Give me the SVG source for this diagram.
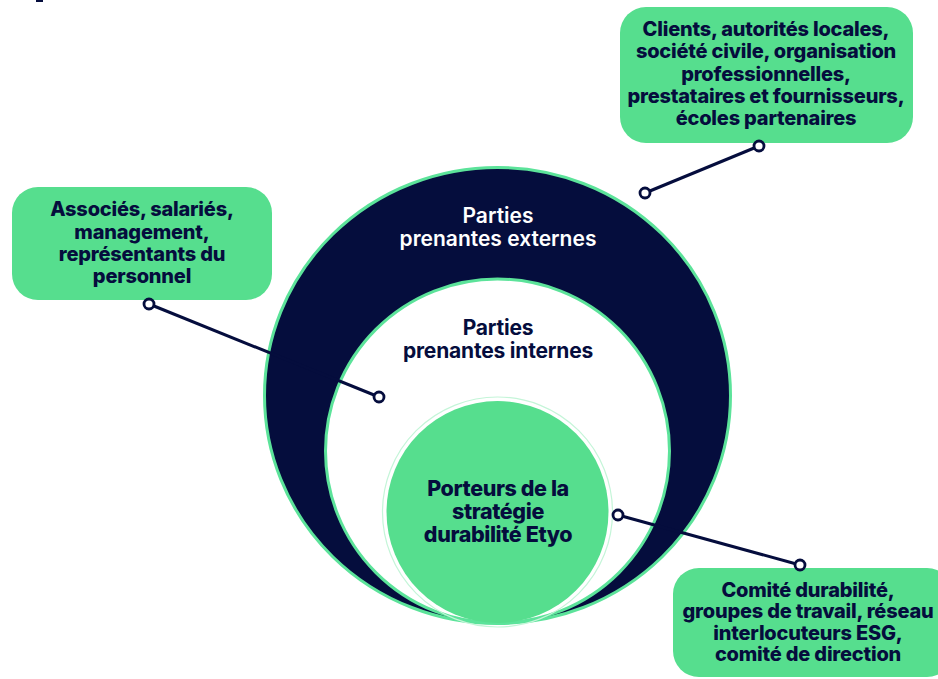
<svg xmlns="http://www.w3.org/2000/svg" width="938" height="679" viewBox="0 0 938 679">
<style>
.box{fill:#56DE8E;}
.t{font-family:Inter,"Liberation Sans",sans-serif;font-weight:800;fill:#050D3D;text-anchor:middle;letter-spacing:-0.2px;}
.bt{font-size:20px;}
.wt{fill:#ffffff;font-size:21px;font-weight:600;letter-spacing:0px;}
.it{font-size:21px;font-weight:700;letter-spacing:-0.2px;}
.ct{font-size:21.5px;letter-spacing:-0.4px;}
.ln{stroke:#050D3D;stroke-width:3;fill:none;}
.dot{fill:#ffffff;stroke:#050D3D;stroke-width:2.8;}
</style>
<rect width="938" height="679" fill="#ffffff"/>
<rect x="36" y="0" width="7" height="2" fill="#050D3D"/>
<g id="outer">
<ellipse cx="497.5" cy="395.5" rx="233" ry="228" fill="#050D3D" stroke="#5CE39A" stroke-width="3"/>
<text class="t wt" x="498" y="223">Parties</text>
<text class="t wt" x="498" y="246">prenantes externes</text>
</g>
<g id="inner">
<circle cx="497.5" cy="451" r="172" fill="#ffffff" stroke="#5CE39A" stroke-width="3"/>
<text class="t it" x="498" y="335">Parties</text>
<text class="t it" x="498" y="358">prenantes internes</text>
</g>
<g id="core">
<circle cx="497.5" cy="512" r="115" fill="none" stroke="#C4F5D8" stroke-width="1.2"/>
<circle cx="497.5" cy="512" r="111" fill="#56DE8E"/>
<text class="t ct" x="498" y="496">Porteurs de la</text>
<text class="t ct" x="498" y="519">stratégie</text>
<text class="t ct" x="498" y="542">durabilité Etyo</text>
</g>
<g id="box-internal">
<rect class="box" x="12" y="187" width="260" height="113" rx="26"/>
<text class="t bt" x="142" y="216">Associés, salariés,</text>
<text class="t bt" x="142" y="239">management,</text>
<text class="t bt" x="142" y="261">représentants du</text>
<text class="t bt" x="142" y="283">personnel</text>
</g>
<g id="box-external">
<rect class="box" x="620" y="7" width="293" height="136" rx="26"/>
<text class="t bt" x="766" y="36">Clients, autorités locales,</text>
<text class="t bt" x="766" y="58">société civile, organisation</text>
<text class="t bt" x="766" y="81">professionnelles,</text>
<text class="t bt" x="766" y="103">prestataires et fournisseurs,</text>
<text class="t bt" x="766" y="125">écoles partenaires</text>
</g>
<g id="box-core">
<rect class="box" x="673" y="568" width="280" height="109" rx="26"/>
<text class="t bt" x="808" y="597">Comité durabilité,</text>
<text class="t bt" x="808" y="618">groupes de travail, réseau</text>
<text class="t bt" x="808" y="640">interlocuteurs ESG,</text>
<text class="t bt" x="808" y="661">comité de direction</text>
</g>
<g id="connectors">
<line class="ln" x1="759" y1="146" x2="645" y2="193"/>
<line class="ln" x1="149" y1="304" x2="379" y2="397"/>
<line class="ln" x1="618" y1="515" x2="800" y2="565"/>
<circle class="dot" cx="759" cy="146" r="5"/>
<circle class="dot" cx="645" cy="193" r="5"/>
<circle class="dot" cx="149" cy="304" r="5"/>
<circle class="dot" cx="379" cy="397" r="5"/>
<circle class="dot" cx="618" cy="515" r="5"/>
<circle class="dot" cx="800" cy="565" r="5"/>
</g>
</svg>
